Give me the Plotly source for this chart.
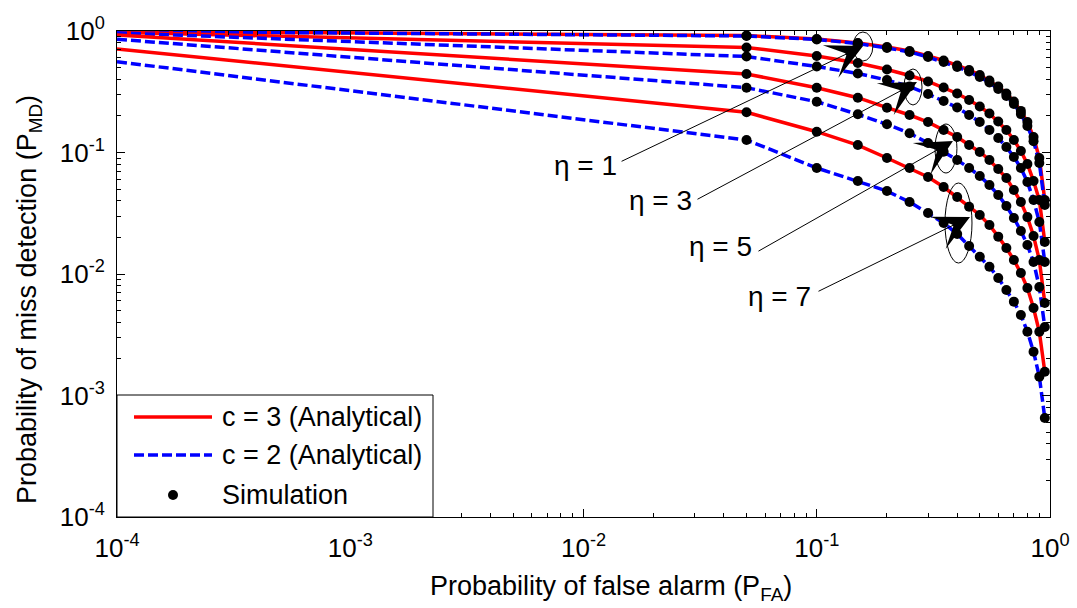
import numpy as np
import plotly.graph_objects as go

# ---------------- data ----------------
p_fa = [1e-4, 0.05, 0.10, 0.15, 0.20, 0.25, 0.30, 0.35, 0.40, 0.45, 0.50,
        0.55, 0.60, 0.65, 0.70, 0.75, 0.80, 0.85, 0.90, 0.95]

pmd_c3_eta1 = [0.996, 0.918, 0.859, 0.797, 0.738, 0.684, 0.622, 0.572, 0.520, 0.478,
               0.434, 0.391, 0.349, 0.306, 0.263, 0.220, 0.178, 0.134, 0.090, 0.0406]
pmd_c2_eta1 = [0.994, 0.910, 0.851, 0.789, 0.725, 0.672, 0.611, 0.556, 0.505, 0.464,
               0.418, 0.377, 0.333, 0.292, 0.251, 0.207, 0.165, 0.124, 0.082, 0.037]
pmd_c3_eta3 = [0.976, 0.732, 0.623, 0.545, 0.482, 0.430, 0.384, 0.343, 0.306, 0.2705,
               0.239, 0.2094, 0.180, 0.1532, 0.1268, 0.1029, 0.0804, 0.0582, 0.0406, 0.01834]
pmd_c2_eta3 = [0.966, 0.617, 0.510, 0.447, 0.395, 0.349, 0.303, 0.2653, 0.2346, 0.2035,
               0.1782, 0.1532, 0.1316, 0.111, 0.0918, 0.0746, 0.0572, 0.0406, 0.0268, 0.01255]
pmd_c3_eta5 = [0.927, 0.443, 0.3415, 0.2825, 0.2337, 0.2035, 0.178, 0.1532, 0.134, 0.1152,
               0.101, 0.0868, 0.0731, 0.0617, 0.0491, 0.0391, 0.0294, 0.02055, 0.01303, 0.00577]
pmd_c2_eta5 = [0.855, 0.3415, 0.2618, 0.2063, 0.1706, 0.1439, 0.1198, 0.1015, 0.0868, 0.0746,
               0.0641, 0.054, 0.0447, 0.0363, 0.0289, 0.0226, 0.01733, 0.01255, 0.00782, 0.00366]
pmd_c3_eta7 = [0.711, 0.2142, 0.1483, 0.1152, 0.0901, 0.0746, 0.0629, 0.052, 0.043, 0.0358,
               0.0306, 0.0253, 0.0203, 0.01637, 0.01303, 0.01019, 0.00767, 0.00525, 0.00335, 0.00157]
pmd_c2_eta7 = [0.559, 0.1268, 0.0746, 0.0582, 0.0482, 0.0391, 0.0318, 0.0263, 0.02134, 0.017,
               0.01388, 0.01148, 0.00927, 0.00738, 0.00592, 0.0046, 0.00335, 0.00229, 0.00143, 0.000653]

curves_c3 = [pmd_c3_eta1, pmd_c3_eta3, pmd_c3_eta5, pmd_c3_eta7]
curves_c2 = [pmd_c2_eta1, pmd_c2_eta3, pmd_c2_eta5, pmd_c2_eta7]

tick_vals = [1e-4, 1e-3, 1e-2, 1e-1, 1]
tick_text = ["10<sup>-4</sup>", "10<sup>-3</sup>", "10<sup>-2</sup>", "10<sup>-1</sup>", "10<sup>0</sup>"]

x_title = "Probability of false alarm (P<sub>FA</sub>)"
y_title = "Probability of miss detection (P<sub>MD</sub>)"

eta_labels = ["\u03b7 = 1", "\u03b7 = 3", "\u03b7 = 5", "\u03b7 = 7"]
# label centre, arrow tip (data values), tail offset (px), ellipse bounds (data values)
label_pos = [(0.01015, 0.0789), (0.0213, 0.0406), (0.0385, 0.0170), (0.0695, 0.00647)]
arrow_tip = [(0.158, 0.752), (0.269, 0.380), (0.3837, 0.1244), (0.454, 0.02945)]
arrow_off = [(-243, 116), (-221, 118), (-196, 111), (-153, 75)]
ellipses = [(0.143, 0.174, 0.981, 0.566), (0.2366, 0.2827, 0.487, 0.246),
            (0.3214, 0.399, 0.1716, 0.0678), (0.3546, 0.463, 0.0561, 0.01231)]

FONT = "Liberation Sans, Arial, sans-serif"
RED = "#ff0000"
BLUE = "#0000ff"
X_LOG_RANGE = [-4, 0]
Y_LOG_RANGE = [-4, 0]

fig = go.Figure()

for y3, y2 in zip(curves_c3, curves_c2):
    fig.add_trace(go.Scatter(x=p_fa, y=y3, mode="lines",
                             line=dict(color=RED, width=3.5), showlegend=False))
    fig.add_trace(go.Scatter(x=p_fa, y=y2, mode="lines",
                             line=dict(color=BLUE, width=3.5, dash="10px,4px"), showlegend=False))

for y3, y2 in zip(curves_c3, curves_c2):
    for yy in (y3, y2):
        fig.add_trace(go.Scatter(x=p_fa[1:], y=yy[1:], mode="markers",
                                 marker=dict(color="black", size=10), showlegend=False))

minor_vals = [m * 10.0 ** e for e in range(-4, 0) for m in range(2, 10)]

axis_common = dict(
    type="log", tickmode="array", tickvals=tick_vals, ticktext=tick_text,
    ticks="inside", ticklen=8, tickwidth=1, tickcolor="black",
    showline=True, linecolor="black", linewidth=1, mirror="allticks",
    showgrid=False, zeroline=False, automargin=False,
    tickfont=dict(family=FONT, size=26, color="black"),
    minor=dict(tickmode="array", tickvals=minor_vals, ticks="inside", ticklen=4,
               tickcolor="black", showgrid=False),
)

fig.update_layout(
    width=1077, height=608,
    margin=dict(l=117, r=27, t=31, b=91, autoexpand=False),
    paper_bgcolor="white", plot_bgcolor="white",
    showlegend=False,
    font=dict(family=FONT, size=26, color="black"),
    xaxis=dict(axis_common, range=X_LOG_RANGE, ticklabelstandoff=8),
    yaxis=dict(axis_common, range=Y_LOG_RANGE, ticklabelstandoff=6),
)

def to_paper_x(v):
    return (np.log10(v) - X_LOG_RANGE[0]) / (X_LOG_RANGE[1] - X_LOG_RANGE[0])

def to_paper_y(v):
    return (np.log10(v) - Y_LOG_RANGE[0]) / (Y_LOG_RANGE[1] - Y_LOG_RANGE[0])

# pixel -> paper helpers for the plot frame (left 117, right 1050, top 31, bottom 517)
PW, PH = 933.0, 486.0
def px(xpix):
    return (xpix - 117) / PW
def py(ypix):
    return (517 - ypix) / PH

shapes = []
annotations = []

# axis titles
annotations.append(dict(x=px(611), y=py(588), xref="paper", yref="paper", text=x_title,
                        showarrow=False, xanchor="center", yanchor="middle",
                        font=dict(family=FONT, size=27, color="black")))
annotations.append(dict(x=px(29), y=py(300), xref="paper", yref="paper", text=y_title,
                        showarrow=False, xanchor="center", yanchor="middle", textangle=-90,
                        font=dict(family=FONT, size=27, color="black")))

for (x0, x1, y0, y1) in ellipses:
    shapes.append(dict(type="circle", xref="paper", yref="paper",
                       x0=to_paper_x(x0), x1=to_paper_x(x1),
                       y0=to_paper_y(y0), y1=to_paper_y(y1),
                       line=dict(color="black", width=1), layer="above"))
for lab, (lx, ly), (tx, ty), (ax, ay) in zip(eta_labels, label_pos, arrow_tip, arrow_off):
    annotations.append(dict(x=np.log10(tx), y=np.log10(ty), xref="x", yref="y", text="",
                            showarrow=True, ax=ax, ay=ay, arrowhead=3, arrowsize=6,
                            arrowwidth=1, arrowcolor="black"))
    annotations.append(dict(x=np.log10(lx), y=np.log10(ly), xref="x", yref="y", text=lab,
                            showarrow=False, font=dict(family=FONT, size=28, color="black")))

# ---------------- hand-drawn legend box ----------------
shapes.append(dict(type="rect", xref="paper", yref="paper", x0=px(117), x1=px(433),
                   y0=py(517), y1=py(395), fillcolor="white",
                   line=dict(color="black", width=1), layer="above"))
shapes.append(dict(type="line", xref="paper", yref="paper", x0=px(134), x1=px(212),
                   y0=py(417), y1=py(417), line=dict(color=RED, width=3.5), layer="above"))
shapes.append(dict(type="line", xref="paper", yref="paper", x0=px(134), x1=px(212),
                   y0=py(455), y1=py(455), line=dict(color=BLUE, width=3.5, dash="10px,4px"),
                   layer="above"))
shapes.append(dict(type="circle", xref="paper", yref="paper", xsizemode="pixel",
                   ysizemode="pixel", xanchor=px(173), yanchor=py(495),
                   x0=-5, x1=5, y0=-5, y1=5, fillcolor="black",
                   line=dict(color="black", width=0), layer="above"))
legend_text = ["c = 3 (Analytical)", "c = 2 (Analytical)", "Simulation"]
for t, yy in zip(legend_text, [417, 455, 495]):
    annotations.append(dict(x=px(220), y=py(yy), xref="paper", yref="paper", text=t,
                            showarrow=False, xanchor="left", yanchor="middle",
                            font=dict(family=FONT, size=27, color="black")))

fig.update_layout(shapes=shapes, annotations=annotations)

fig.write_html("out.html")
